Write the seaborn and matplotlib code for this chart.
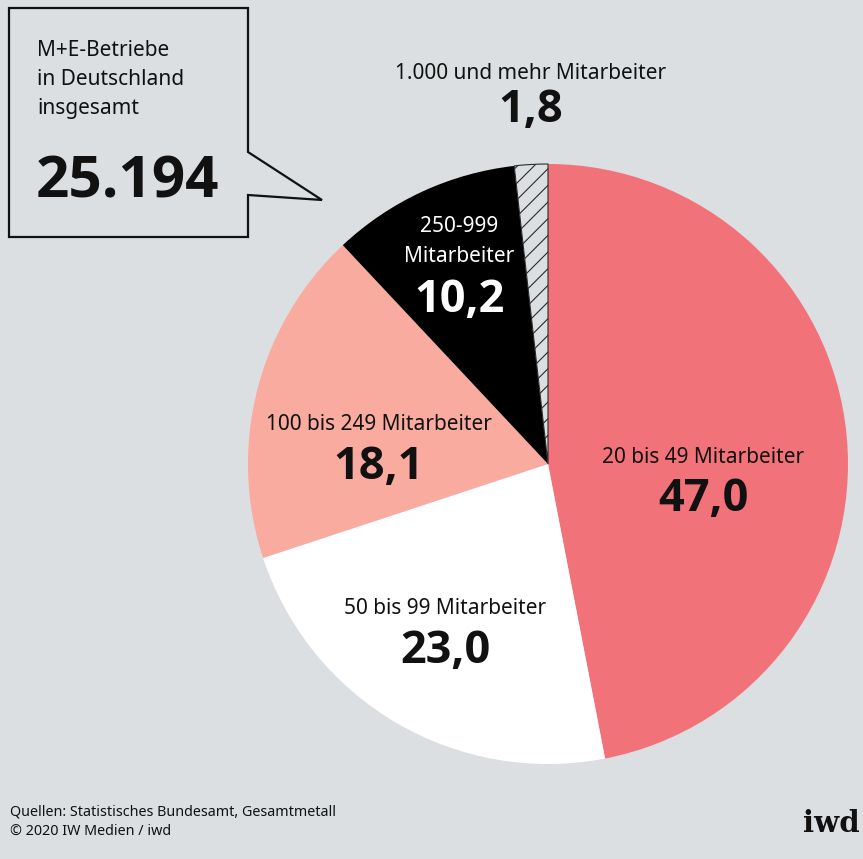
import numpy as np
import matplotlib
matplotlib.use("Agg")
import matplotlib.pyplot as plt
import seaborn as sns
from matplotlib.patches import Polygon
from matplotlib import font_manager as fm

# ---- data ----
categories = ["20 bis 49 Mitarbeiter", "50 bis 99 Mitarbeiter", "100 bis 249 Mitarbeiter",
              "250-999\nMitarbeiter", "1.000 und mehr Mitarbeiter"]
shares = [47.0, 23.0, 18.1, 10.2, 1.8]
value_labels = ["47,0", "23,0", "18,1", "10,2", "1,8"]
total_label = "25.194"
box_text = ["M+E-Betriebe", "in Deutschland", "insgesamt"]
source_lines = ["Quellen: Statistisches Bundesamt, Gesamtmetall", "© 2020 IW Medien / iwd"]

BG = "#dcdfe2"
colors = ["#f2727a", "#ffffff", "#f9ab9f", "#000000", BG]

sns.set_theme(style="white", rc={"figure.facecolor": BG, "axes.facecolor": BG,
                                 "hatch.linewidth": 0.8})
plt.rcParams["font.family"] = ["Noto Sans", "DejaVu Sans"]


def bold_family():
    for fam in ["Noto Sans", "Open Sans", "Lato", "Roboto", "Liberation Sans", "DejaVu Sans"]:
        try:
            path = fm.findfont(fm.FontProperties(family=fam, weight="bold"),
                               fallback_to_default=False)
        except Exception:
            continue
        name = fm.get_font(path).family_name
        style = fm.get_font(path).style_name.lower()
        if fam.lower() in name.lower() and "bold" in style:
            return fam
    return "DejaVu Sans"


BFAM = [bold_family(), "DejaVu Sans"]

W, H = 863, 859
fig = plt.figure(figsize=(W / 100, H / 100), dpi=100)

# pie axes: centre (548, 464) px, radius 300 px
cx, cy, R = 548, 464, 300
ax = fig.add_axes([(cx - R) / W, (H - cy - R) / H, 2 * R / W, 2 * R / H])
ax.set_facecolor("none")
wedges, _ = ax.pie(shares, colors=colors, startangle=90, counterclock=False,
                   radius=1, wedgeprops=dict(linewidth=0))
hw = wedges[-1]
hw.set_hatch("//")
hw.set_edgecolor("#2a2a2a")
hw.set_linewidth(0.8)
ax.set_xlim(-1, 1)
ax.set_ylim(-1, 1)
ax.axis("off")

# leader line for the small slice
mid = np.deg2rad((hw.theta1 + hw.theta2) / 2)
ax.plot([np.cos(mid), 1.09 * np.cos(mid)], [np.sin(mid), 1.09 * np.sin(mid)],
        color="#333333", lw=1.0, solid_capstyle="butt")

# overlay axes in pixel coordinates
ov = fig.add_axes([0, 0, 1, 1])
ov.set_xlim(0, W)
ov.set_ylim(H, 0)
ov.axis("off")
ov.set_facecolor("none")

# callout box
box = Polygon([(9, 8), (248, 8), (248, 152), (322, 200), (248, 195), (248, 237), (9, 237)],
              closed=True, facecolor=BG, edgecolor="#111111", lw=1.6, joinstyle="miter")
ov.add_patch(box)
for i, t in enumerate(box_text):
    ov.text(37, 56 + i * 29, t, fontsize=15, color="#111111", va="baseline", ha="left")
ov.text(36, 198, total_label, fontsize=42, fontweight="bold", color="#111111",
        va="baseline", ha="left", family=BFAM)

small = 15
big = 32.5
# slice labels: (x, baseline of small label, baseline of value, colour)
lab_pos = [(703, 463, 511, "#111111"),
           (445, 614, 663, "#111111"),
           (379, 430, 479, "#111111"),
           (459, 232, 312, "#ffffff"),
           (531, 79, 122, "#111111")]
for cat, val, (x, yl, yv, c) in zip(categories, value_labels, lab_pos):
    lines = cat.split("\n")
    for j, ln in enumerate(lines):
        ov.text(x, yl + j * 30, ln, fontsize=small, color=c, ha="center", va="baseline")
    ov.text(x, yv, val, fontsize=big, fontweight="bold", color=c, ha="center",
            va="baseline", family=BFAM)

# footer
ov.text(10, 816, source_lines[0], fontsize=10.3, color="#111111", ha="left", va="baseline")
ov.text(10, 835, source_lines[1], fontsize=10.3, color="#111111", ha="left", va="baseline")
ov.text(860, 832, "iwd", fontsize=21, fontweight="bold", color="#111111", ha="right",
        va="baseline", family=["DejaVu Serif"])

fig.savefig("out.png", dpi=100, facecolor=BG)
